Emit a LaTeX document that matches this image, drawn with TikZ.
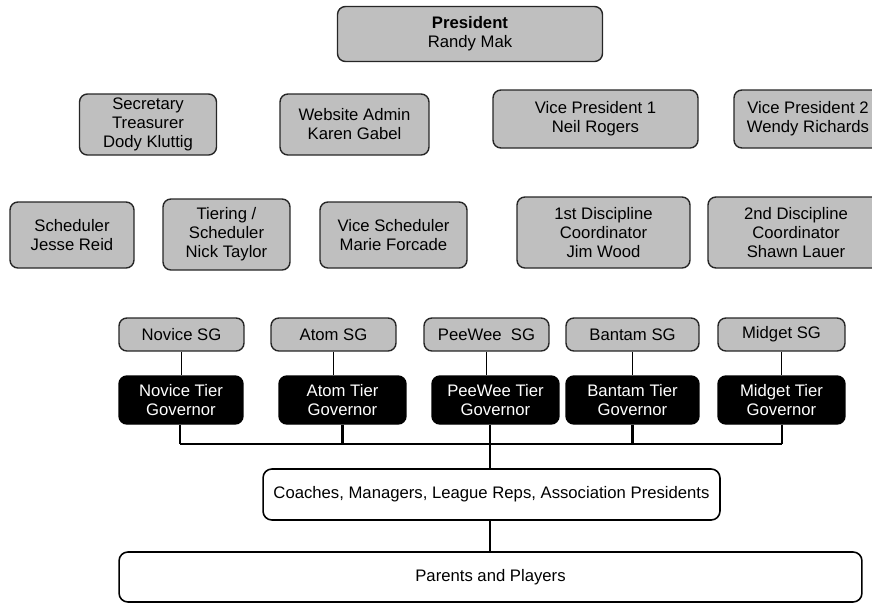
\documentclass[tikz,border=0pt]{standalone}
\usepackage{fontspec}
\setmainfont{Liberation Sans}
\usetikzlibrary{calc}

\begin{document}
\begin{tikzpicture}[x=0.02cm, y=-0.02cm,
  gbox/.style={draw=black!85, line width=0.8pt, fill=black!25, rounded corners=4.5pt, align=center, inner sep=1pt, font=\fontsize{9.5}{10.8}\selectfont},
  tierbox/.style={draw=black, line width=0.8pt, fill=black, text=white, rounded corners=4.5pt, align=center, inner sep=1pt, font=\fontsize{9.5}{10.8}\selectfont, minimum height=0.96cm},
  wbox/.style={draw=black, line width=0.9pt, fill=white, rounded corners=5pt, align=center, font=\fontsize{9.5}{10.8}\selectfont},
  sgbox/.style={gbox, minimum height=0.66cm},
  thinline/.style={line width=0.5pt},
  thickline/.style={line width=1.3pt}]
  \useasboundingbox (0,0) rectangle (872,603);
  \clip (0,0) rectangle (872,603);

  \node[gbox, minimum width=5.3cm, minimum height=1.1cm] (president) at (470,34) {\textbf{President}\\Randy Mak};

  \node[gbox, minimum width=2.74cm, minimum height=1.22cm] (secretary) at (148,124.5) {Secretary\\Treasurer\\Dody Kluttig};
  \node[gbox, minimum width=2.98cm, minimum height=1.22cm] (webadmin) at (354.5,124.5) {Website Admin\\Karen Gabel};
  \node[gbox, minimum width=4.1cm, minimum height=1.16cm] (vp1) at (595.5,119) {Vice President 1\\Neil Rogers};
  \node[gbox, minimum width=2.96cm, minimum height=1.16cm] (vp2) at (808,119) {Vice President 2\\Wendy Richards};

  \node[gbox, minimum width=2.48cm, minimum height=1.32cm] (scheduler) at (72,235) {Scheduler\\Jesse Reid};
  \node[gbox, minimum width=2.54cm, minimum height=1.42cm] (tiering) at (226.5,234.5) {Tiering /\\Scheduler\\Nick Taylor};
  \node[gbox, minimum width=2.94cm, minimum height=1.32cm] (vicesched) at (393.5,235) {Vice Scheduler\\Marie Forcade};
  \node[gbox, minimum width=3.46cm, minimum height=1.42cm] (discipline1) at (603.5,232.5) {1st Discipline\\Coordinator\\Jim Wood};
  \node[gbox, minimum width=3.52cm, minimum height=1.42cm] (discipline2) at (796,232.5) {2nd Discipline\\Coordinator\\Shawn Lauer};

  \node[sgbox, minimum width=2.5cm] (novicesg) at (181.5,334.5) {Novice SG};
  \node[sgbox, minimum width=2.5cm] (atomsg) at (333.5,334.5) {Atom SG};
  \node[sgbox, minimum width=2.5cm] (peeweesg) at (486.5,334.5) {PeeWee\ \ SG};
  \node[sgbox, minimum width=2.66cm] (bantamsg) at (632.5,334.5) {Bantam SG};
  \node[sgbox, minimum width=2.54cm] (midgetsg) at (781.5,334.5) {Midget SG};

  \node[tierbox, minimum width=2.48cm] (novicetier) at (181,400) {Novice Tier\\Governor};
  \node[tierbox, minimum width=2.54cm] (atomtier) at (342.5,400) {Atom Tier\\Governor};
  \node[tierbox, minimum width=2.54cm] (peeweetier) at (495.5,400) {PeeWee Tier\\Governor};
  \node[tierbox, minimum width=2.66cm] (bantamtier) at (632.5,400) {Bantam Tier\\Governor};
  \node[tierbox, minimum width=2.54cm] (midgettier) at (781.5,400) {Midget Tier\\Governor};

  \node[wbox, minimum width=9.14cm, minimum height=1.02cm] (coaches) at (491.5,494.5) {Coaches, Managers, League Reps, Association Presidents};
  \node[wbox, minimum width=14.86cm, minimum height=1.0cm] (parents) at (490.5,577) {Parents and Players};

  \coordinate (busleft) at (180,444);
  \coordinate (busright) at (782,444);
  \coordinate (busmid) at (490,444);

  \draw[thinline] (novicesg) -- (novicesg |- novicetier.north);
  \draw[thinline] (atomsg) -- (atomsg |- atomtier.north);
  \draw[thinline] (peeweesg) -- (peeweesg |- peeweetier.north);
  \draw[thinline] (bantamsg) -- (bantamsg |- bantamtier.north);
  \draw[thinline] (midgetsg) -- (midgetsg |- midgettier.north);

  \draw[thickline] (busleft) -- (busright);
  \draw[thickline] (busleft |- novicetier.south) -- (busleft);
  \draw[thickline] (atomtier.south) -- (atomtier.south |- busleft);
  \draw[thickline] (busmid |- peeweetier.south) -- (busmid);
  \draw[thickline] (bantamtier.south) -- (bantamtier.south |- busleft);
  \draw[thickline] (busright |- midgettier.south) -- (busright);
  \draw[thickline] (busmid) -- (busmid |- coaches.north);
  \draw[thickline] (busmid |- coaches.south) -- (busmid |- parents.north);

\end{tikzpicture}
\end{document}
